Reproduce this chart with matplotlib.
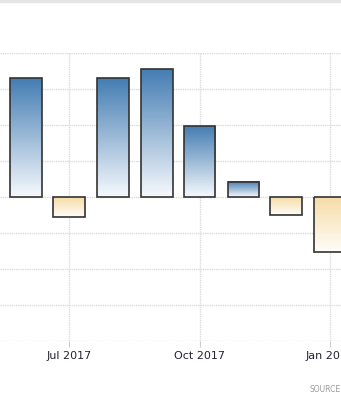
import matplotlib
matplotlib.use("Agg")
import matplotlib.pyplot as plt
import matplotlib.dates as mdates
import numpy as np
from datetime import datetime

# monthly values (grid step 0.1)
months = ["2017-06-01", "2017-07-01", "2017-08-01", "2017-09-01",
          "2017-10-01", "2017-11-01", "2017-12-01", "2018-01-01"]
values = [0.33, -0.055, 0.33, 0.355, 0.197, 0.043, -0.05, -0.152]
tick_dates = ["2017-07-01", "2017-10-01", "2018-01-01"]
tick_labels = ["Jul 2017", "Oct 2017", "Jan 2018"]

dates = [datetime.strptime(m, "%Y-%m-%d") for m in months]

fig = plt.figure(figsize=(3.41, 4.0), dpi=100)
# plot area: top at y=53 px, bottom at y=341 px
ax = fig.add_axes([0, 59 / 400, 1, 288 / 400])

bars = ax.bar(dates, values, width=22.5, align="center",
              edgecolor="#333333", linewidth=1.2, zorder=3,
              facecolor="none")

grad = np.linspace(0, 1, 256).reshape(-1, 1)
blue_top = np.array([0x44, 0x7d, 0xb3]) / 255
blue_bot = np.array([0xf6, 0xf9, 0xfd]) / 255
tan_top = np.array([0xf6, 0xdc, 0xa8]) / 255
tan_bot = np.array([0xff, 0xfd, 0xf8]) / 255

for b, v in zip(bars, values):
    x0 = b.get_x()
    x1 = x0 + b.get_width()
    y0, y1 = b.get_y(), b.get_y() + b.get_height()
    if v >= 0:
        top, bot = blue_top, blue_bot
    else:
        top, bot = tan_top, tan_bot
    img = (top + (bot - top) * grad).reshape(256, 1, 3)
    ax.imshow(img, extent=[x0, x1, min(y0, y1), max(y0, y1)],
              aspect="auto", origin="upper", zorder=2,
              interpolation="bilinear")

# x scale: Jul 1 at 69 px, Jan 1 at 330 px
jul = mdates.date2num(datetime(2017, 7, 1))
jan = mdates.date2num(datetime(2018, 1, 1))
per_px = (jan - jul) / (330 - 69)
ax.set_xlim(jul - 69 * per_px, jul + (341 - 69) * per_px)
ax.set_ylim(-0.4, 0.4)

ax.set_xticks([mdates.date2num(datetime.strptime(d, "%Y-%m-%d")) for d in tick_dates])
ax.set_xticklabels(tick_labels, fontsize=8, color="#222233")
ax.set_yticks(np.arange(-0.4, 0.45, 0.1))
ax.tick_params(axis="y", left=False, labelleft=False)
ax.tick_params(axis="x", length=4, width=0.8, color="#cccccc", pad=3)

ax.grid(True, color="#dcdcdc", linestyle=(0, (1, 0.6)), linewidth=1, zorder=0)
ax.set_axisbelow(True)
for s in ax.spines.values():
    s.set_visible(False)

# light band along the top edge
fig.add_artist(plt.Rectangle((0, 1 - 2 / 400), 1, 2 / 400,
                             transform=fig.transFigure, color="#e4e4e4",
                             zorder=5))

fig.text(310 / 341, 1 - 392 / 400, "SOURCE", fontsize=5.5, color="#9a9a9a")

fig.savefig("out.png", dpi=100)
